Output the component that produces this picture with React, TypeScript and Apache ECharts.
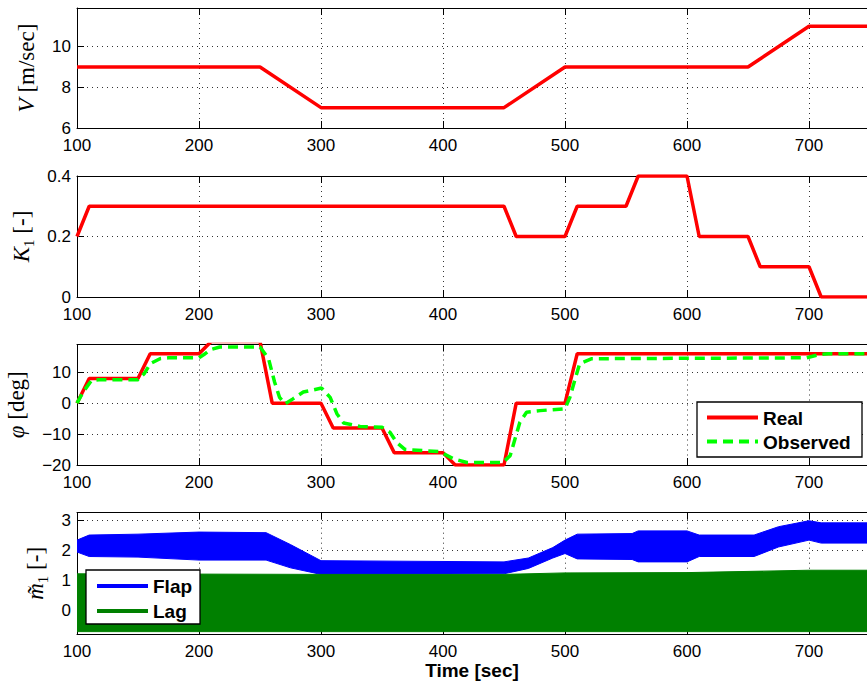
import React, { useEffect, useRef } from "react";
import * as echarts from "echarts";

// ---------- data ----------
const xMinMax = [100, 750];
const xStep = 100;

const vTime = [100, 250, 300, 450, 500, 650, 700, 750];
const vValues = [9, 9, 7, 7, 9, 9, 11, 11];

const kTime = [100, 110, 450, 460, 500, 510, 550, 560, 600, 610, 650, 660, 700, 710, 750];
const kValues = [0.2, 0.3, 0.3, 0.2, 0.2, 0.3, 0.3, 0.4, 0.4, 0.2, 0.2, 0.1, 0.1, 0, 0];

const phiRealTime = [100, 110, 150, 160, 200, 210, 250, 260, 300, 310, 350, 360, 400, 410, 450, 460, 500, 510, 750];
const phiRealValues = [0, 8, 8, 16, 16, 20, 20, 0, 0, -8, -8, -16, -16, -20, -20, 0, 0, 16, 16];

const phiObsTime = [100, 105, 112, 118, 150, 155, 160, 168, 175, 200, 205, 209, 217, 250, 257, 262, 266, 270.5, 277, 285.5, 300.5, 307.5, 313, 318.5, 332, 350, 356.5, 362, 369, 397.5, 408.5, 419.5, 449, 455, 459, 463, 468.5, 479.5, 500, 504, 508, 512, 522, 698, 709, 716, 750];
const phiObsValues = [0, 3.6, 7.4, 7.6, 7.6, 9.5, 12.8, 14.4, 14.7, 14.7, 16, 17.3, 18.2, 18.2, 14.4, 6.8, 1.9, -0.2, 1.4, 3.6, 4.9, 1.9, -3.4, -6.4, -7.5, -7.8, -9.4, -12.7, -15, -15.7, -18, -19.2, -19.2, -17, -11.6, -6.2, -2.9, -2.4, -1.8, 1.9, 7.4, 12.8, 14.4, 14.7, 15.8, 16, 16];

// oscillation envelopes of the blade loads
const flapTime = [100, 110, 150, 200, 255, 275, 300, 450, 470, 490, 500, 510, 555, 560, 600, 610, 655, 675, 700, 710, 750];
const flapHigh = [2.35, 2.52, 2.55, 2.62, 2.6, 2.2, 1.66, 1.62, 1.75, 2.1, 2.35, 2.55, 2.57, 2.66, 2.66, 2.52, 2.52, 2.8, 3.0, 2.93, 2.93];
const flapLow = [1.95, 1.8, 1.78, 1.68, 1.68, 1.42, 1.2, 1.22, 1.4, 1.75, 1.9, 1.72, 1.7, 1.62, 1.62, 1.8, 1.8, 2.12, 2.35, 2.25, 2.25];

const lagTime = [100, 300, 450, 500, 600, 700, 750];
const lagHigh = [1.22, 1.2, 1.2, 1.25, 1.26, 1.34, 1.34];
const lagLow = [-0.72, -0.72, -0.72, -0.72, -0.72, -0.72, -0.72];

const phiSeriesNames = ["Real", "Observed"];
const loadSeriesNames = ["Flap", "Lag"];
const yTitles = [
  "{it|V} [m/sec]",
  "{it|K}{sub|1} [-]",
  "{it|φ} [deg]",
  "{it|m̃}{sub|1} [-]",
];
const xTitle = "Time [sec]";

// ---------- styling ----------
const SANS = '"Liberation Sans", Arial, Helvetica, sans-serif';
const SERIF = '"Liberation Serif", "Times New Roman", serif';
const RED = "#ff0000";
const LIME = "#00ff00";
const BLUE = "#0000ff";
const GREEN = "#008000";

const pairs = (t: number[], v: number[]) => t.map((x, i) => [x, v[i]]);

export default function App() {
  const ref = useRef<HTMLDivElement>(null);

  useEffect(() => {
    const chart = echarts.init(ref.current!, null, { renderer: "svg" });

    const grids = [
      { left: 77, top: 8, width: 793, height: 120 },
      { left: 77, top: 176, width: 793, height: 121 },
      { left: 77, top: 344.5, width: 793, height: 120.5 },
      { left: 77, top: 512.7, width: 793, height: 121.3 },
    ];

    const dotted = { type: [1, 4] as any, color: "#333", width: 1 };

    const xAxes: any[] = [];
    grids.forEach((_, i) => {
      xAxes.push({
        gridIndex: i,
        type: "value",
        min: xMinMax[0],
        max: xMinMax[1],
        interval: xStep,
        position: "bottom",
        axisLine: { show: true, onZero: false, lineStyle: { color: "#000", width: 1 } },
        axisTick: { show: true, inside: true, length: 7, lineStyle: { color: "#000" } },
        axisLabel: { fontFamily: SANS, fontSize: 17, lineHeight: 14, color: "#000", margin: 10, showMaxLabel: false },
        splitLine: { show: true, lineStyle: dotted },
      });
    });
    grids.forEach((_, i) => {
      xAxes.push({
        gridIndex: i,
        type: "value",
        min: xMinMax[0],
        max: xMinMax[1],
        interval: xStep,
        position: "top",
        axisLine: { show: true, onZero: false, lineStyle: { color: "#000", width: 1 } },
        axisTick: { show: true, inside: true, length: 7, lineStyle: { color: "#000" } },
        axisLabel: { show: false },
        splitLine: { show: false },
      });
    });

    const rich = {
      it: { fontStyle: "italic", fontFamily: SERIF, fontSize: 23, color: "#000" },
      sub: { fontFamily: SERIF, fontSize: 15, color: "#000", verticalAlign: "bottom", lineHeight: 15 },
    };

    const yCommon = (i: number, extra: any, gap: number) => ({
      gridIndex: i,
      type: "value",
      name: yTitles[i],
      nameLocation: "middle",
      nameRotate: 90,
      nameGap: gap,
      nameTextStyle: { fontFamily: SERIF, fontSize: 23, color: "#000", lineHeight: 30, rich },
      axisLine: { show: true, onZero: false, lineStyle: { color: "#000", width: 1 } },
      axisTick: { show: true, inside: true, length: 7, lineStyle: { color: "#000" } },
      axisLabel: {
        fontFamily: SANS,
        fontSize: 17,
        lineHeight: 12,
        color: "#000",
        margin: 6,
        formatter: (v: number) => String(v).replace("-", "\u2212"),
        ...(extra.axisLabel || {}),
      },
      splitLine: { show: true, lineStyle: dotted },
      ...extra.range,
    });

    const yAxes = [
      yCommon(0, { range: { min: 6, max: 11.9, interval: 2 }, axisLabel: { showMaxLabel: false } }, 32),
      yCommon(1, { range: { min: 0, max: 0.4, interval: 0.2 } }, 37),
      yCommon(2, { range: { min: -20, max: 19, interval: 10 }, axisLabel: { showMaxLabel: false } }, 44),
      yCommon(3, { range: { min: -0.8, max: 3.27, splitNumber: 4 }, axisLabel: { showMaxLabel: false, showMinLabel: false } }, 22),
    ];

    const lineBase = { type: "line", symbol: "none", showSymbol: false, animation: false, clip: true };

    const band = (name: string, t: number[], lo: number[], hi: number[], color: string) => ({
      type: "custom",
      name,
      coordinateSystem: "cartesian2d",
      xAxisIndex: 3,
      yAxisIndex: 3,
      clip: true,
      data: t.map((x, i) => [x, lo[i], hi[i]]),
      encode: { x: 0, y: [1, 2] },
      renderItem: (params: any, api: any) => {
        if (params.dataIndex !== 0) return null;
        const top = t.map((x, i) => api.coord([x, hi[i]]));
        const bottom = t.map((x, i) => api.coord([x, lo[i]])).reverse();
        return {
          type: "polygon",
          shape: { points: top.concat(bottom) },
          style: { fill: color, stroke: color, lineWidth: 1 },
        };
      },
    });

    const series: any[] = [
      { ...lineBase, name: "V", xAxisIndex: 0, yAxisIndex: 0, data: pairs(vTime, vValues), lineStyle: { color: RED, width: 3.5 } },
      { ...lineBase, name: "K1", xAxisIndex: 1, yAxisIndex: 1, data: pairs(kTime, kValues), lineStyle: { color: RED, width: 3.5 } },
      { ...lineBase, name: phiSeriesNames[0], xAxisIndex: 2, yAxisIndex: 2, data: pairs(phiRealTime, phiRealValues), lineStyle: { color: RED, width: 3.5 }, z: 2 },
      { ...lineBase, name: phiSeriesNames[1], xAxisIndex: 2, yAxisIndex: 2, data: pairs(phiObsTime, phiObsValues), lineStyle: { color: LIME, width: 3.5, type: [10, 6] }, z: 3 },
      band(loadSeriesNames[0], flapTime, flapLow, flapHigh, BLUE),
      band(loadSeriesNames[1], lagTime, lagLow, lagHigh, GREEN),
    ];

    const legendBox = (x: number, y: number, w: number, h: number) => ({
      type: "rect",
      shape: { x, y, width: w, height: h },
      style: { fill: "#fff", stroke: "#000", lineWidth: 1.3 },
      z: 100,
    });
    const legendLine = (x1: number, x2: number, y: number, color: string, dash?: number[]) => ({
      type: "line",
      shape: { x1, y1: y, x2, y2: y },
      style: { stroke: color, lineWidth: 4, lineDash: dash || null },
      z: 101,
    });
    const legendText = (x: number, y: number, text: string) => ({
      type: "text",
      x,
      y,
      style: {
        text,
        fontFamily: SANS,
        fontSize: 19,
        fontWeight: "bold",
        fill: "#000",
        textAlign: "left",
        align: "left",
        textVerticalAlign: "middle",
        verticalAlign: "middle",
      },
      z: 101,
    });

    const graphic = [
      legendBox(697, 402, 165, 55),
      legendLine(707, 758, 417.5, RED),
      legendText(763, 418, phiSeriesNames[0]),
      legendLine(707, 758, 441.5, LIME, [10, 6]),
      legendText(763, 442, phiSeriesNames[1]),
      legendBox(86, 570, 114, 54),
      legendLine(97, 148, 586, BLUE),
      legendText(153, 586.5, loadSeriesNames[0]),
      legendLine(97, 148, 611, GREEN),
      legendText(153, 611.5, loadSeriesNames[1]),
      {
        type: "text",
        x: 472,
        y: 670,
        style: {
          text: xTitle,
          fontFamily: SANS,
          fontSize: 19,
          lineHeight: 19,
          fontWeight: "bold",
          fill: "#000",
          textAlign: "center",
          align: "center",
          textVerticalAlign: "middle",
          verticalAlign: "middle",
        },
        z: 101,
      },
    ];

    chart.setOption({
      animation: false,
      backgroundColor: "#fff",
      grid: grids.map((g) => ({ ...g, containLabel: false, outerBoundsMode: "none" })),
      xAxis: xAxes,
      yAxis: yAxes,
      series,
      graphic,
    });

    return () => chart.dispose();
  }, []);

  return (
    <div
      style={{
        position: "fixed",
        left: 0,
        top: 0,
        width: 867,
        height: 681,
        overflow: "hidden",
        background: "#fff",
      }}
    >
      <div ref={ref} style={{ width: 1000, height: 681 }} />
    </div>
  );
}
